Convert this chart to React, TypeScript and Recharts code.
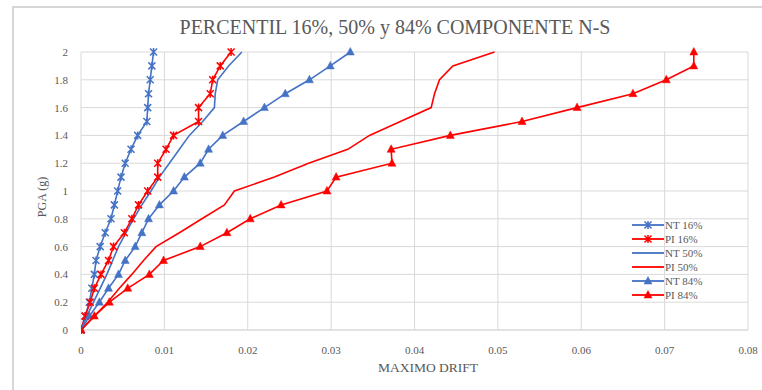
import React from 'react'
import { LineChart, Line, XAxis, YAxis, CartesianGrid } from 'recharts'

// PGA levels (g) shared by every curve
const pga = [0, 0.1, 0.2, 0.3, 0.4, 0.5, 0.6, 0.7, 0.8, 0.9, 1.0, 1.1, 1.2, 1.3, 1.4, 1.5, 1.6, 1.7, 1.8, 1.9, 2.0]

// maximum drift, one value per PGA level
const nt16 = [0, 0.0005, 0.001, 0.0013, 0.0016, 0.0018, 0.0023, 0.0029, 0.0036, 0.004, 0.0044, 0.0048, 0.0053, 0.006, 0.0068, 0.0079, 0.008, 0.0081, 0.0083, 0.0085, 0.0087]
const pi16 = [0, 0.0005, 0.0011, 0.0016, 0.0024, 0.0033, 0.0039, 0.0052, 0.0061, 0.0069, 0.008, 0.0092, 0.0092, 0.0102, 0.0111, 0.0141, 0.0141, 0.0155, 0.0158, 0.0167, 0.018]
const nt50 = [0, 0.0007, 0.0015, 0.0023, 0.0031, 0.0038, 0.0045, 0.0054, 0.0063, 0.0073, 0.0084, 0.0094, 0.0106, 0.0118, 0.013, 0.0146, 0.016, 0.0161, 0.0164, 0.0177, 0.0193]
const pi50 = [0, 0.0016, 0.0032, 0.0046, 0.0061, 0.0075, 0.009, 0.0118, 0.0145, 0.0172, 0.0184, 0.0232, 0.0273, 0.032, 0.0346, 0.0383, 0.042, 0.0424, 0.043, 0.0446, 0.0496]
const nt84 = [0, 0.001, 0.0022, 0.0033, 0.0045, 0.0053, 0.0065, 0.0073, 0.0081, 0.0094, 0.0111, 0.0124, 0.0143, 0.0153, 0.017, 0.0195, 0.022, 0.0245, 0.0274, 0.0299, 0.0323]
const pi84 = [0, 0.0016, 0.0034, 0.0056, 0.0082, 0.0099, 0.0143, 0.0175, 0.0203, 0.024, 0.0295, 0.0306, 0.0373, 0.0372, 0.0443, 0.0529, 0.0595, 0.0662, 0.0702, 0.0735, 0.0735]

const xTicks = [0, 0.01, 0.02, 0.03, 0.04, 0.05, 0.06, 0.07, 0.08]
const yTicks = [0, 0.2, 0.4, 0.6, 0.8, 1, 1.2, 1.4, 1.6, 1.8, 2]

const BLUE = '#4472C4'
const RED = '#FF0000'
const TXT = '#595959'
const FONT = '"Liberation Serif", "Times New Roman", serif'

type Marker = 'star' | 'none' | 'tri'

const series: { name: string; drift: number[]; color: string; marker: Marker }[] = [
  { name: 'NT 16%', drift: nt16, color: BLUE, marker: 'star' },
  { name: 'PI 16%', drift: pi16, color: RED, marker: 'star' },
  { name: 'NT 50%', drift: nt50, color: BLUE, marker: 'none' },
  { name: 'PI 50%', drift: pi50, color: RED, marker: 'none' },
  { name: 'NT 84%', drift: nt84, color: BLUE, marker: 'tri' },
  { name: 'PI 84%', drift: pi84, color: RED, marker: 'tri' },
]

const toPoints = (drift: number[]) => drift.map((x, i) => ({ x, y: pga[i] }))

function markerShape(kind: Marker, cx: number, cy: number, color: string, key?: string) {
  if (kind === 'star') {
    const r = 3.5
    return (
      <path
        key={key}
        d={`M${cx - r},${cy - r}L${cx + r},${cy + r}M${cx - r},${cy + r}L${cx + r},${cy - r}M${cx},${cy - r - 0.5}L${cx},${cy + r + 0.5}`}
        stroke={color}
        strokeWidth={1.5}
        fill="none"
      />
    )
  }
  if (kind === 'tri') {
    return <path key={key} d={`M${cx},${cy - 4.5}L${cx + 4},${cy + 3}L${cx - 4},${cy + 3}Z`} fill={color} stroke={color} strokeWidth={0.5} />
  }
  return <g key={key} />
}

const makeDot = (kind: Marker, color: string) => (props: any) => {
  const { cx, cy, index } = props
  if (cx == null || cy == null) return <g key={`d-${index}`} />
  return markerShape(kind, cx, cy, color, `d-${index}`)
}

function LegendBox() {
  return (
    <div style={{ position: 'absolute', left: 632, top: 218, fontFamily: FONT, fontSize: 11, color: TXT }}>
      {series.map((s) => (
        <div key={s.name} style={{ height: 14, display: 'flex', alignItems: 'center' }}>
          <svg width={32} height={12} style={{ display: 'block' }}>
            <line x1={0} y1={6} x2={32} y2={6} stroke={s.color} strokeWidth={1.8} />
            {markerShape(s.marker, 16, 6, s.color)}
          </svg>
          <span style={{ marginLeft: 1, whiteSpace: 'nowrap' }}>{s.name}</span>
        </div>
      ))}
    </div>
  )
}

export default function App() {
  return (
    <div style={{ position: 'absolute', left: 0, top: 0, width: 762, height: 390, overflow: 'hidden', background: '#fff' }}>
      <div style={{ position: 'absolute', left: 12, top: 6, width: 800, height: 420, border: '2px solid #d6d6d6' }} />
      <div
        style={{
          position: 'absolute', left: 0, width: 790, top: 15, textAlign: 'center',
          fontFamily: FONT, fontSize: 20, color: TXT, lineHeight: '24px',
        }}
      >
        PERCENTIL 16%, 50% y 84% COMPONENTE N-S
      </div>
      <div
        style={{
          position: 'absolute', left: 42, top: 197, transform: 'translate(-50%, -50%) rotate(-90deg)',
          fontFamily: FONT, fontSize: 12, color: TXT, whiteSpace: 'nowrap',
        }}
      >
        PGA (g)
      </div>
      <div
        style={{
          position: 'absolute', left: 428, top: 368, transform: 'translate(-50%, -50%)',
          fontFamily: FONT, fontSize: 13.5, color: TXT, whiteSpace: 'nowrap',
        }}
      >
        MAXIMO DRIFT
      </div>
      <LineChart width={762} height={390} margin={{ top: 52, right: 14, bottom: 30, left: 0 }} style={{ position: 'absolute', left: 0, top: 0 }}>
        <CartesianGrid stroke="#d9d9d9" strokeWidth={1} />
        <XAxis
          type="number"
          dataKey="x"
          domain={[0, 0.08]}
          ticks={xTicks}
          interval={0}
          height={30}
          tickLine={false}
          tickSize={0}
          tickMargin={16}
          axisLine={{ stroke: '#d9d9d9' }}
          tick={{ fill: TXT, fontSize: 11, fontFamily: FONT }}
          allowDataOverflow
        />
        <YAxis
          type="number"
          dataKey="y"
          domain={[0, 2]}
          ticks={yTicks}
          interval={0}
          width={81}
          tickLine={false}
          tickSize={0}
          tickMargin={13}
          axisLine={false}
          tick={{ fill: TXT, fontSize: 11, fontFamily: FONT }}
        />
        {series.map((s) => (
          <Line
            key={s.name}
            name={s.name}
            data={toPoints(s.drift)}
            dataKey="y"
            type="linear"
            stroke={s.color}
            strokeWidth={1.6}
            dot={s.marker === 'none' ? false : makeDot(s.marker, s.color)}
            activeDot={false}
            isAnimationActive={false}
          />
        ))}
      </LineChart>
      <LegendBox />
    </div>
  )
}
